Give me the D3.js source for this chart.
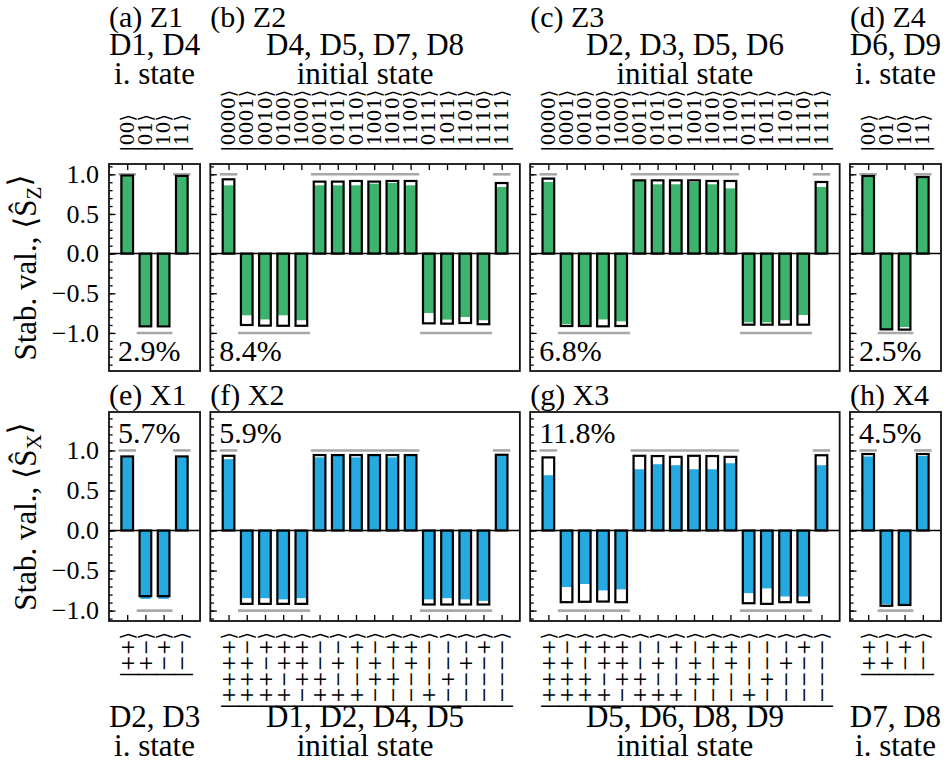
<!DOCTYPE html>
<html lang="en">
<head>
  <meta charset="utf-8">
  <title>Stabilizer values</title>
  <style>
    body {
      margin:0;
      background-color:#fff;
    }
    svg {
      display:block;
    }
    .axis path {
      display:none;
    }
    .axis line {
      stroke:#000;
      stroke-width:1.3;
    }
    .axis text {
      font-size:26px;
      fill:#000;
    }
  </style>
</head>
<body>
  <div id="chart"></div>
  <script src="https://d3js.org/d3.v7.min.js"></script>
  <script>
    // basis states (bar labels)
    var zStates2 = ["00","01","10","11"];
    var zStates4 = ["0000","0001","0010","0100","1000","0011","0101","0110",
                    "1001","1010","1100","0111","1011","1101","1110","1111"];
    var xStates2 = ["++","+\u2212","\u2212+","\u2212\u2212"];
    var xStates4 = ["++++","+++\u2212","++\u2212+","+\u2212++","\u2212+++","++\u2212\u2212",
                    "+\u2212+\u2212","+\u2212\u2212+","\u2212++\u2212","\u2212+\u2212+","\u2212\u2212++",
                    "+\u2212\u2212\u2212","\u2212+\u2212\u2212","\u2212\u2212+\u2212","\u2212\u2212\u2212+","\u2212\u2212\u2212\u2212"];

    // ideal stabilizer value per state
    var ideal2 = [1,-1,-1,1];
    var ideal4 = [1,-1,-1,-1,-1,1,1,1,1,1,1,-1,-1,-1,-1,1];

    // measured values: black outline bar / coloured bar
    var z1Outline = [0.985,-0.917,-0.917,0.98];
    var z1Fill    = [0.975,-0.91,-0.905,0.975];
    var z2Outline = [0.937,-0.90,-0.908,-0.91,-0.91,0.908,0.908,0.916,0.908,0.916,0.916,-0.879,-0.883,-0.875,-0.89,0.89];
    var z2Fill    = [0.861,-0.778,-0.83,-0.778,-0.84,0.861,0.861,0.861,0.882,0.89,0.861,-0.749,-0.832,-0.80,-0.84,0.84];
    var z3Outline = [0.946,-0.913,-0.913,-0.917,-0.913,0.924,0.924,0.924,0.924,0.916,0.916,-0.896,-0.896,-0.896,-0.896,0.903];
    var z3Fill    = [0.903,-0.89,-0.905,-0.83,-0.854,0.916,0.874,0.874,0.903,0.874,0.823,-0.866,-0.866,-0.84,-0.774,0.84];
    var z4Outline = [0.979,-0.955,-0.958,0.966];
    var z4Fill    = [0.97,-0.95,-0.925,0.96];

    var x1Outline = [0.925,-0.82,-0.82,0.925];
    var x1Fill    = [0.915,-0.853,-0.853,0.915];
    var x2Outline = [0.933,-0.916,-0.916,-0.916,-0.916,0.942,0.942,0.942,0.942,0.942,0.942,-0.924,-0.924,-0.924,-0.924,0.946];
    var x2Fill    = [0.891,-0.845,-0.845,-0.86,-0.845,0.913,0.94,0.913,0.94,0.913,0.93,-0.86,-0.845,-0.86,-0.878,0.94];
    var x3Outline = [0.913,-0.895,-0.89,-0.887,-0.895,0.933,0.93,0.92,0.933,0.93,0.92,-0.908,-0.916,-0.895,-0.895,0.94];
    var x3Fill    = [0.69,-0.706,-0.668,-0.748,-0.735,0.765,0.828,0.815,0.765,0.765,0.84,-0.782,-0.723,-0.824,-0.824,0.815];
    var x4Outline = [0.955,-0.94,-0.93,0.955];
    var x4Fill    = [0.925,-0.92,-0.93,0.93];

    var zTitles = ["(a) Z1","(b) Z2","(c) Z3","(d) Z4"];
    var xTitles = ["(e) X1","(f) X2","(g) X3","(h) X4"];
    var zQubits = ["D1, D4","D4, D5, D7, D8","D2, D3, D5, D6","D6, D9"];
    var xQubits = ["D2, D3","D1, D2, D4, D5","D5, D6, D8, D9","D7, D8"];
    var zErrors = ["2.9%","8.4%","6.8%","2.5%"];
    var xErrors = ["5.7%","5.9%","11.8%","4.5%"];
    var yTicks = [-1,-0.5,0,0.5,1];

    var serif = "'Liberation Serif', 'Times New Roman', Tinos, 'DejaVu Serif', serif";
    var ketFont = "'DejaVu Serif', 'Liberation Serif', 'DejaVu Sans', serif";

    // ---- layout ----
    var W = 952, H = 767;
    var left = 109, right = 941, gap = 10.3;
    var spans = [5,17,17,5];
    var unit = (right - left - 3 * gap) / d3.sum(spans);
    var colX = [];
    var acc = left;
    spans.forEach(function(s){ colX.push(acc); acc += s * unit + gap; });

    var rows = [
      {
        top:164, bottom:371, domain:[-1.48,1.13], color:"#3cb46e", sub:"Z",
        titles:zTitles, qubits:zQubits, errors:zErrors, kets:"top",
        states:[zStates2,zStates4,zStates4,zStates2],
        outline:[z1Outline,z2Outline,z3Outline,z4Outline],
        fill:[z1Fill,z2Fill,z3Fill,z4Fill]
      },
      {
        top:412, bottom:621, domain:[-1.13,1.48], color:"#24a9e0", sub:"X",
        titles:xTitles, qubits:xQubits, errors:xErrors, kets:"bottom",
        states:[xStates2,xStates4,xStates4,xStates2],
        outline:[x1Outline,x2Outline,x3Outline,x4Outline],
        fill:[x1Fill,x2Fill,x3Fill,x4Fill]
      }
    ];

    var svg = d3.select("#chart").append("svg")
        .attr("width", W)
        .attr("height", H)
        .style("font-family", serif);

    rows.forEach(function(row, r){
      var y = d3.scaleLinear().domain(row.domain).range([row.bottom, row.top]);

      // y axis title
      var yt = svg.append("text")
          .attr("transform", "translate(36," + ((row.top + row.bottom) / 2) + ") rotate(-90)")
          .attr("text-anchor", "middle")
          .style("font-family", serif)
          .style("font-size", "31px");
      yt.append("tspan").text("Stab. val., \u27E8\u015C");
      yt.append("tspan").attr("dy", "0.25em").style("font-size", "21px").text(row.sub);
      yt.append("tspan").attr("dy", "-0.36em").text("\u27E9");

      row.states.forEach(function(states, c){
        var n = states.length;
        var ideal = n == 4 ? ideal2 : ideal4;
        var x = d3.scaleLinear().domain([-1, n]).range([colX[c], colX[c] + (n + 1) * unit]);
        var g = svg.append("g").attr("class", "panel");

        // ideal values as grey segments
        var runs = [];
        ideal.forEach(function(v, i){
          if(runs.length && runs[runs.length-1].v == v){ runs[runs.length-1].end = i; }
          else { runs.push({v:v, start:i, end:i}); }
        });
        g.selectAll("line.ideal").data(runs).enter().append("line")
            .attr("class", "ideal")
            .attr("x1", function(d){ return x(d.start - 0.48); })
            .attr("x2", function(d){ return x(d.end + 0.48); })
            .attr("y1", function(d){ return y(d.v); })
            .attr("y2", function(d){ return y(d.v); })
            .attr("stroke", "#a8a8a8")
            .attr("stroke-width", 2.6);

        var bw = 0.58 * unit, ow = 0.64 * unit;
        g.selectAll("rect.fillbar").data(row.fill[c]).enter().append("rect")
            .attr("class", "fillbar")
            .attr("x", function(d, i){ return x(i) - bw / 2; })
            .attr("width", bw)
            .attr("y", function(d){ return y(Math.max(d, 0)); })
            .attr("height", function(d){ return Math.abs(y(d) - y(0)); })
            .attr("fill", row.color);

        g.selectAll("rect.outbar").data(row.outline[c]).enter().append("rect")
            .attr("class", "outbar")
            .attr("x", function(d, i){ return x(i) - ow / 2; })
            .attr("width", ow)
            .attr("y", function(d){ return y(Math.max(d, 0)); })
            .attr("height", function(d){ return Math.abs(y(d) - y(0)); })
            .attr("fill", "none")
            .attr("stroke", "#000")
            .attr("stroke-width", 2.2);

        // zero line
        g.append("line")
            .attr("x1", x(-1)).attr("x2", x(n))
            .attr("y1", y(0)).attr("y2", y(0))
            .attr("stroke", "#000")
            .attr("stroke-width", 1.5);

        // y ticks (inside)
        var minor = d3.range(-14, 15).map(function(k){ return k / 10; })
            .filter(function(v){ return v > row.domain[0] && v < row.domain[1]; });
        g.append("g").attr("class", "axis")
            .attr("transform", "translate(" + x(-1) + ",0)")
            .call(d3.axisLeft(y).tickValues(minor).tickSizeInner(-3.6).tickSizeOuter(0).tickFormat(""));
        var ya = g.append("g").attr("class", "axis")
            .attr("transform", "translate(" + x(-1) + ",0)")
            .call(d3.axisLeft(y).tickValues(yTicks).tickSizeInner(-6.5).tickSizeOuter(0).tickPadding(10)
              .tickFormat(c == 0 ? function(v){ return d3.format(".1f")(v).replace("-", "\u2212"); } : ""));
        ya.attr("font-family", null).attr("font-size", null);
        ya.selectAll("text").style("font-family", serif).style("font-size", "26px");

        // x ticks (inside), top for Z row, bottom for X row
        var idx = d3.range(n);
        if(row.kets == "top"){
          g.append("g").attr("class", "axis")
              .attr("transform", "translate(0," + row.top + ")")
              .call(d3.axisTop(x).tickValues(idx).tickSizeInner(-6).tickSizeOuter(0).tickFormat(""));
        } else {
          g.append("g").attr("class", "axis")
              .attr("transform", "translate(0," + row.bottom + ")")
              .call(d3.axisBottom(x).tickValues(idx).tickSizeInner(-6).tickSizeOuter(0).tickFormat(""));
        }

        // frame
        g.append("rect")
            .attr("x", x(-1)).attr("y", row.top)
            .attr("width", x(n) - x(-1)).attr("height", row.bottom - row.top)
            .attr("fill", "none")
            .attr("stroke", "#111")
            .attr("stroke-width", 1.8);

        // error percentage
        g.append("text")
            .attr("x", x(-1) + 9)
            .attr("y", row.kets == "top" ? row.bottom - 10 : row.top + 31)
            .style("font-family", serif)
            .style("font-size", "30px")
            .text(row.errors[c]);

        // kets
        var ketY = row.kets == "top" ? 152 : 632;
        g.selectAll("text.ket").data(states).enter().append("text")
            .attr("class", "ket")
            .attr("transform", function(d, i){ return "translate(" + x(i) + "," + ketY + ") rotate(-90)"; })
            .attr("dy", "0.35em")
            .attr("text-anchor", row.kets == "top" ? "start" : "end")
            .style("font-family", ketFont)
            .style("font-size", "19px")
            .text(function(d){ return "|" + d + "\u27E9"; });

        // titles and initial-state labels
        var cx = (x(-1) + x(n)) / 2;
        var stateLabel = n == 4 ? "i. state" : "initial state";
        var ys = row.kets == "top" ? [27, 55, 84] : [405, 727, 756];
        g.append("text").attr("x", x(-1)).attr("y", ys[0])
            .style("font-family", serif).style("font-size", "30px").text(row.titles[c]);
        g.append("text").attr("x", cx).attr("y", ys[1]).attr("text-anchor", "middle")
            .style("font-family", serif).style("font-size", "31px").text(row.qubits[c]);
        g.append("text").attr("x", cx).attr("y", ys[2]).attr("text-anchor", "middle")
            .style("font-family", serif).style("font-size", "31px").text(stateLabel);
      });
    });
  </script>
</body>
</html>
